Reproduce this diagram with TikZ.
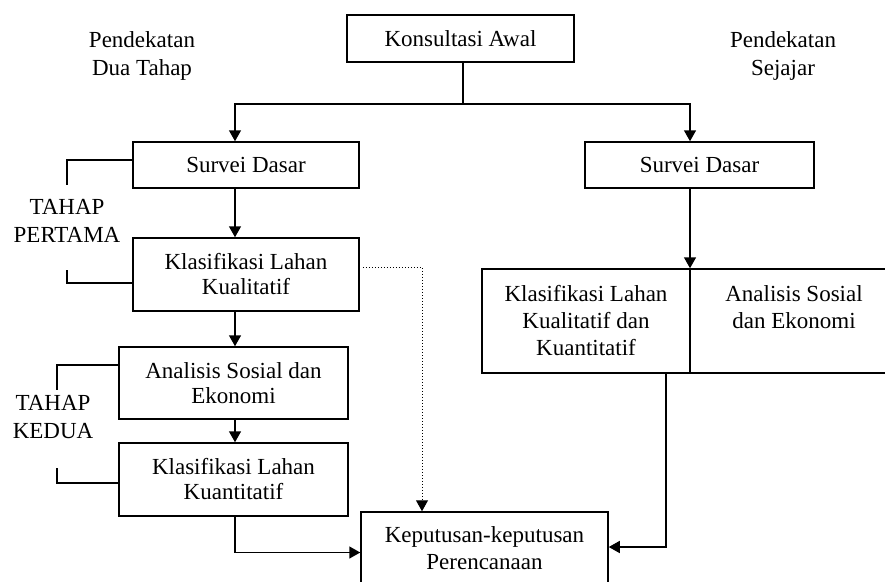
\documentclass[tikz,border=0pt]{standalone}
\usepackage{fontspec}
\setmainfont{Liberation Serif}
\usetikzlibrary{arrows.meta}
\begin{document}
\begin{tikzpicture}[x=1pt,y=-1pt,
  box/.style={draw, line width=1.5pt, inner sep=0pt, align=center,
    font=\fontsize{23}{25}\selectfont},
  lbl/.style={inner sep=0pt, align=center, font=\fontsize{23}{28}\selectfont},
  ln/.style={line width=1.5pt},
  arr/.style={line width=1.5pt, -{Triangle[length=11pt,width=12pt]}},
  dotarr/.style={line width=1pt, dotted, -{Triangle[length=11pt,width=12pt]}}]
\useasboundingbox (0,0) rectangle (885,581);
\clip (0,0) rectangle (885,581);

% nodes
\node[box, minimum width=227pt, minimum height=47pt] (konsul) at (460.5,38.5) {Konsultasi Awal};
\node[lbl] (pdt) at (142,56) {Pendekatan\\Dua Tahap};
\node[lbl] (psj) at (783,56) {Pendekatan\\Sejajar};

\node[box, minimum width=226pt, minimum height=46pt] (sd1) at (246,165) {Survei Dasar};
\node[box, minimum width=229pt, minimum height=46pt] (sd2) at (699.5,165) {Survei Dasar};

\node[box, minimum width=226pt, minimum height=73pt] (kk) at (246,274.5) {Klasifikasi Lahan\\Kualitatif};
\node[box, minimum width=229pt, minimum height=72pt] (asa) at (233.5,383) {Analisis Sosial dan\\Ekonomi};
\node[box, minimum width=229pt, minimum height=73pt] (kn) at (233.5,479.5) {Klasifikasi Lahan\\Kuantitatif};

\node[box, font=\fontsize{23}{27}\selectfont, minimum width=208pt, minimum height=104pt] (kl2) at (586,321) {Klasifikasi Lahan\\Kualitatif dan\\Kuantitatif};
\node[box, font=\fontsize{23}{27}\selectfont, minimum width=208pt, minimum height=104pt] (as2) at (794,321) {Analisis Sosial\\dan Ekonomi\\\mbox{}};

\node[box, font=\fontsize{23}{27}\selectfont, minimum width=247pt, minimum height=73pt] (kep) at (484.5,548.5) {Keputusan-keputusan\\Perencanaan};

\node[lbl] (tp1) at (67,221) {TAHAP\\PERTAMA};
\node[lbl] (tp2) at (53,417) {TAHAP\\KEDUA};

% helper coordinates
\coordinate (split) at (463,104);
\coordinate (lc) at (235,0);
\coordinate (rc) at (690,0);
\coordinate (rc2) at (666,0);
\coordinate (dc) at (422,0);
\coordinate (b1a) at (67,185);
\coordinate (b1b) at (67,270);
\coordinate (b2a) at (57,390);
\coordinate (b2b) at (57,468);

% connectors
\draw[ln] (konsul.south -| split) -- (split);
\draw[arr] (split) -| (sd1.north -| lc);
\draw[arr] (split) -| (sd2.north -| rc);
\draw[arr] (sd1.south -| lc) -- (kk.north -| lc);
\draw[arr] (kk.south -| lc) -- (asa.north -| lc);
\draw[arr] (asa.south -| lc) -- (kn.north -| lc);
\draw[arr] (kn.south -| lc) |- ([yshift=-4pt]kep.west);
\draw[arr] (sd2.south -| rc) -- (kl2.north -| rc);
\draw[arr] (kl2.south -| rc2) |- ([yshift=1.5pt]kep.east);
\draw[dotarr] ([xshift=3pt,yshift=7.5pt]kk.east) -| (kep.north -| dc);

% brackets
\draw[ln] ([yshift=5pt]sd1.west) -| (b1a);
\draw[ln] (b1b) |- ([yshift=-8.5pt]kk.west);
\draw[ln] ([yshift=18pt]asa.west) -| (b2a);
\draw[ln] (b2b) |- ([yshift=-3.5pt]kn.west);
\end{tikzpicture}
\end{document}
